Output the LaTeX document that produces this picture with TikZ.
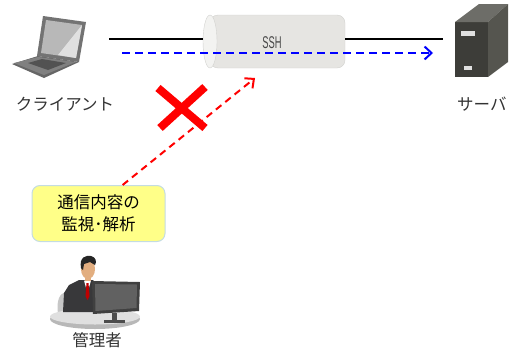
\documentclass[tikz,border=0pt]{standalone}
\usepackage{fontspec}
\newfontfamily\jpfont{Noto Sans CJK JP}
\newfontfamily\sshfont{Liberation Sans}
\usetikzlibrary{calc}
\usetikzlibrary{positioning}
\usetikzlibrary{arrows.meta}

\definecolor{tubefill}{HTML}{E6E5E2}
\definecolor{tubeedge}{HTML}{D2D2CF}
\definecolor{tubecap}{HTML}{F3F3F1}
\definecolor{notefill}{HTML}{FFFF88}
\definecolor{noteedge}{HTML}{C4DCE2}
\definecolor{srvfront}{HTML}{3D3D39}
\definecolor{srvtop}{HTML}{6D6D68}
\definecolor{srvside}{HTML}{55554F}
\definecolor{suit}{HTML}{38383A}
\definecolor{skin}{HTML}{E2AE80}

\begin{document}
\begin{tikzpicture}[%
  x=1pt, y=-1pt,
  >={Straight Barb[length=7pt,width=13pt]},
  jplabel/.style={font=\jpfont\fontsize{16.5}{20}\selectfont, text=black!80, inner sep=0pt},
  notebox/.style={draw=noteedge, fill=notefill, line width=1pt, rounded corners=8pt,
    minimum width=133pt, minimum height=56pt, align=center,
    font=\jpfont\fontsize{16.5}{22}\selectfont},
  ssharrow/.style={blue, line width=2pt, dash pattern=on 8pt off 5pt, ->},
  peekarrow/.style={red, line width=2pt, dash pattern=on 7pt off 5pt,
    -{Straight Barb[length=7pt,width=13pt]}},
]

  \useasboundingbox (0,0) rectangle (513,351);

  % laptop
  \fill[black!60] (12,64) -- (38,56) -- (79,62) -- (44,78) -- cycle;
  \fill[black!50] (14,63) -- (38,57) -- (76,62) -- (44,75) -- cycle;
  \fill[black!68] (28,63) -- (42,59) -- (66,63) -- (48,70) -- cycle;
  \fill[black!55] (43,16) -- (86,22) -- (79,62) -- (37,56) -- cycle;
  \fill[black!28] (46,20) -- (82,25) -- (76,58) -- (41,53) -- cycle;
  \fill[black!12] (82,25) -- (76,58) -- (58,55) -- cycle;
  \coordinate (pc) at (109,39);

  % server
  \fill[srvfront] (455,22) -- (488,22) -- (488,77) -- (455,77) -- cycle;
  \fill[srvtop] (455,22) -- (479,4) -- (508,4) -- (488,22) -- cycle;
  \fill[srvside] (488,22) -- (508,4) -- (508,62) -- (488,77) -- cycle;
  \fill[black!12] (461,31) rectangle (475,36);
  \fill[black!12] (464,66) rectangle (472,70);
  \coordinate (srv) at (443,39);

  % ssh tunnel
  \filldraw[fill=tubefill, draw=tubeedge, rounded corners=8pt]
    (210,15) -- (345,15) -- (345,68) -- (210,68) -- cycle;
  \filldraw[fill=tubecap, draw=tubeedge] (210,41.5) ellipse [x radius=7, y radius=26.5];
  \node[font=\sshfont\fontsize{17}{17}\selectfont, text=black!72, xscale=0.55] (ssh) at (272,43) {SSH};
  \coordinate (tin) at (203,39);
  \coordinate (tout) at (345,39);

  \draw[line width=2pt] (pc) -- (tin);
  \draw[line width=2pt] (tout) -- (srv);

  \coordinate (a) at (122,53);
  \coordinate (b) at (433,53);
  \draw[ssharrow] (a) -- (b);

  \node[jplabel] (client) at (65,104) {クライアント};
  \node[jplabel, anchor=west] (server) at (457,104) {サーバ};

  % note and the tapping line
  \node[notebox] (watch) at (98.5,213.5) {通信内容の\\監視･解析};
  \coordinate (tap) at (255,78);
  \draw[peekarrow] ($(watch.north west)!0.68!(watch.north east)$) -- (tap);

  \draw[red, line width=8pt] (158,88) -- (205,128);
  \draw[red, line width=8pt] (205,87) -- (160,128);

  % admin at desk
  \fill[black!22] (58,314) .. controls (56,300) and (60,293) .. (66,292) -- (68,314) -- cycle;
  \fill[black!28] (95,319) ellipse [x radius=45, y radius=10];
  \fill[black!12] (95,316.5) ellipse [x radius=45, y radius=8];
  \fill[suit] (63,312) -- (64,293) -- (69,285) -- (79,280) -- (93,280) -- (98,286) -- (98,312) -- cycle;
  \fill[white] (84,280.5) -- (91,280.5) -- (87.5,293) -- cycle;
  \fill[red!75!black] (86.5,283) -- (88.5,283) -- (89.5,296) -- (87.5,300) -- (85.5,296) -- cycle;
  \fill[skin] (88,269) ellipse [x radius=7, y radius=10];
  \fill[skin] (85,276) rectangle (91,281);
  \fill[black!85] (81,268) .. controls (79,257) and (86,255) .. (91,256)
    .. controls (96,257) and (97,262) .. (95,265) -- (90,262) -- (84,264) -- (83,270) -- cycle;
  \fill[black!75] (92,281) -- (140,282) -- (139,311) -- (93,314) -- cycle;
  \fill[black!62] (95,284) -- (137,284.5) -- (136.5,308) -- (95.5,311) -- cycle;
  \fill[black!70] (112,313) rectangle (117,320);
  \fill[black!70] (104,319.5) rectangle (125,323);
  \node[jplabel] (admin) at (97,340) {管理者};

\end{tikzpicture}
\end{document}
